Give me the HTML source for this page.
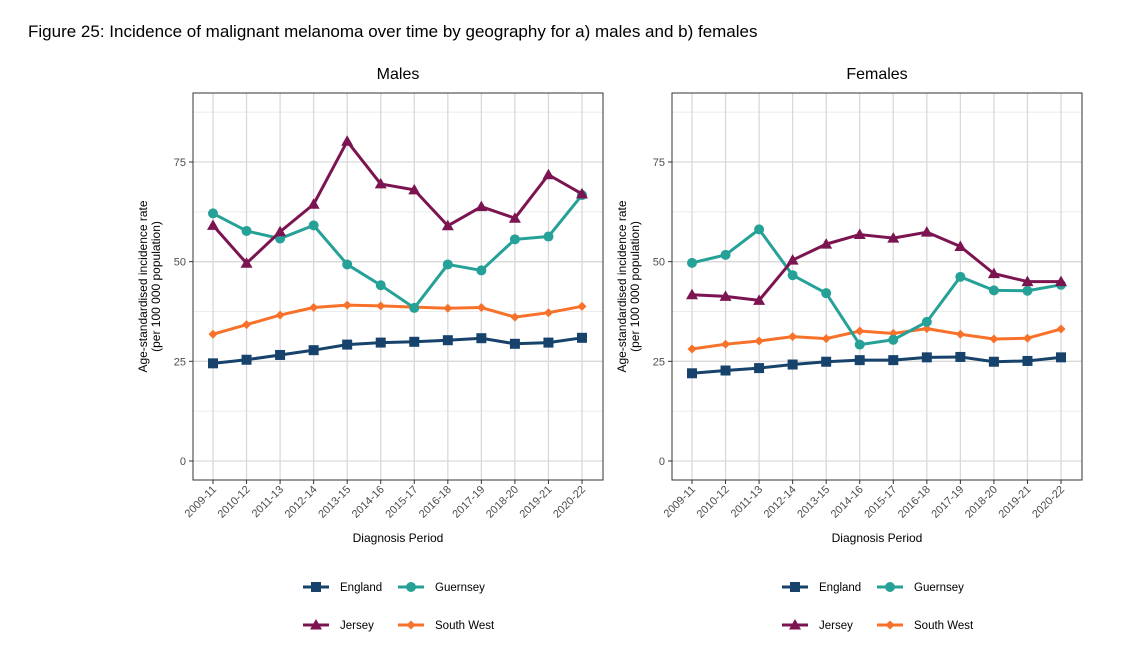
<!DOCTYPE html>
<html><head><meta charset="utf-8">
<style>
body{margin:0;background:#fff;font-family:"Liberation Sans",sans-serif;}
svg text{font-family:"Liberation Sans",sans-serif;}
</style></head>
<body>
<svg id="c" width="1125" height="659" xmlns="http://www.w3.org/2000/svg">
<text x="28" y="37" font-size="17" fill="#000">Figure 25: Incidence of malignant melanoma over time by geography for a) males and b) females</text>
</svg>
<script>
const categories=["2009-11","2010-12","2011-13","2012-14","2013-15","2014-16","2015-17","2016-18","2017-19","2018-20","2019-21","2020-22"];
const yTicks=[0,25,50,75];
const seriesNames=["England","Guernsey","Jersey","South West"];
const maleEngland=[24.5,25.4,26.6,27.8,29.2,29.7,29.9,30.3,30.8,29.4,29.7,30.9];
const maleSouthWest=[31.8,34.2,36.6,38.5,39.1,38.9,38.6,38.3,38.5,36.1,37.2,38.8];
const maleGuernsey=[62.1,57.7,55.8,59.1,49.3,44.1,38.4,49.3,47.8,55.6,56.3,66.7];
const maleJersey=[59.1,49.6,57.5,64.4,80.2,69.5,68.0,59.0,63.8,60.9,71.8,67.0];
const femaleEngland=[22.0,22.7,23.3,24.2,24.9,25.3,25.3,26.0,26.1,24.9,25.1,26.0];
const femaleSouthWest=[28.1,29.3,30.1,31.2,30.7,32.6,32.0,33.2,31.8,30.6,30.8,33.1];
const femaleGuernsey=[49.7,51.7,58.1,46.6,42.1,29.2,30.4,34.9,46.2,42.8,42.7,44.2];
const femaleJersey=[41.7,41.3,40.3,50.4,54.4,56.8,55.9,57.4,53.8,47.0,45.0,45.0];

const NS="http://www.w3.org/2000/svg";
const svg=document.getElementById('c');
function mk(tag,attrs,parent){const e=document.createElementNS(NS,tag);for(const k in attrs)e.setAttribute(k,attrs[k]);(parent||svg).appendChild(e);return e;}
const colors={England:"#16426b",Guernsey:"#26a198",Jersey:"#7b1450","South West":"#f8712a"};

function marker(g,shape,x,y,col){
  if(shape==="England"){mk('rect',{x:x-5,y:y-5,width:10,height:10,fill:col},g);}
  else if(shape==="Guernsey"){mk('circle',{cx:x,cy:y,r:5,fill:col},g);}
  else if(shape==="Jersey"){mk('polygon',{points:`${x},${y-6} ${x+6},${y+4.5} ${x-6},${y+4.5}`,fill:col},g);}
  else {mk('polygon',{points:`${x},${y-4.5} ${x+4.5},${y} ${x},${y+4.5} ${x-4.5},${y}`,fill:col},g);}
}

function panel(left,title,data,name){
  const g=mk('g',{});
  
  
  const L=left,R=left+410,T=93,B=480;
  const xS=i=>L+20+i*(369/11);
  const yS=v=>461-v*(299/75);
  // grid
  [12.5,37.5,62.5,87.5].forEach(v=>mk('line',{x1:L,x2:R,y1:yS(v),y2:yS(v),stroke:"#ebebeb","stroke-width":1},g));
  yTicks.forEach(v=>mk('line',{x1:L,x2:R,y1:yS(v),y2:yS(v),stroke:"#d9d9d9","stroke-width":1.3},g));
  categories.forEach((c,i)=>mk('line',{x1:xS(i),x2:xS(i),y1:T,y2:B,stroke:"#d9d9d9","stroke-width":1.3},g));
  mk('rect',{x:L,y:T,width:R-L,height:B-T,fill:"none",stroke:"#333","stroke-width":1},g);
  yTicks.forEach(v=>{
    mk('line',{x1:L-4,x2:L,y1:yS(v),y2:yS(v),stroke:"#333"},g);
    const t=mk('text',{x:L-7,y:yS(v)+4,"font-size":11,fill:"#4d4d4d","text-anchor":"end"},g);t.textContent=v;
    
    
  });
  categories.forEach((c,i)=>{
    mk('line',{x1:xS(i),x2:xS(i),y1:B,y2:B+4,stroke:"#333"},g);
    const t=mk('text',{x:xS(i)+4,y:B+10,"font-size":11,fill:"#4d4d4d","text-anchor":"end",transform:`rotate(-45 ${xS(i)+4} ${B+10})`},g);t.textContent=c;
    
    
  });
  const tt=mk('text',{x:(L+R)/2,y:79,"font-size":16,fill:"#000","text-anchor":"middle"},g);tt.textContent=title;
  
  
  const xt=mk('text',{x:(L+R)/2,y:542,"font-size":12,fill:"#000","text-anchor":"middle"},g);xt.textContent="Diagnosis Period";
  
  
  const yt=mk('text',{x:0,y:0,"font-size":12,fill:"#000","text-anchor":"middle",transform:`translate(${L-44},${(T+B)/2}) rotate(-90)`},g);
  
  
  const s1=mk('tspan',{x:0,dy:-2},yt);s1.textContent="Age-standardised incidence rate";
  const s2=mk('tspan',{x:0,dy:13},yt);s2.textContent="(per 100 000 population)";
  ["South West","England","Guernsey","Jersey"].forEach(s=>{
    const vals=data[s],col=colors[s];
    const sg=mk('g',{},g);
    
    
    mk('polyline',{points:vals.map((v,i)=>xS(i)+","+yS(v)).join(" "),fill:"none",stroke:col,"stroke-width":3,"stroke-linejoin":"round"},sg);
    vals.forEach((v,i)=>marker(sg,s,xS(i),yS(v),col));
  });
  // legend
  const lg=mk('g',{},g);
  
  
  const cx=L+110;
  [["England",0,587],["Guernsey",1,587],["Jersey",0,625],["South West",1,625]].forEach(([s,col,y])=>{
    const x0=cx+col*95;
    const eg=mk('g',{},lg);
    
    
    mk('line',{x1:x0,x2:x0+26,y1:y,y2:y,stroke:colors[s],"stroke-width":3},eg);
    marker(eg,s,x0+13,y,colors[s]);
    const t=mk('text',{x:x0+37,y:y+4,"font-size":11.5,fill:"#000"},eg);t.textContent=s;
  });
}
panel(193,"Males",{England:maleEngland,Guernsey:maleGuernsey,Jersey:maleJersey,"South West":maleSouthWest},"males");
panel(672,"Females",{England:femaleEngland,Guernsey:femaleGuernsey,Jersey:femaleJersey,"South West":femaleSouthWest},"females");
</script>
</body></html>
